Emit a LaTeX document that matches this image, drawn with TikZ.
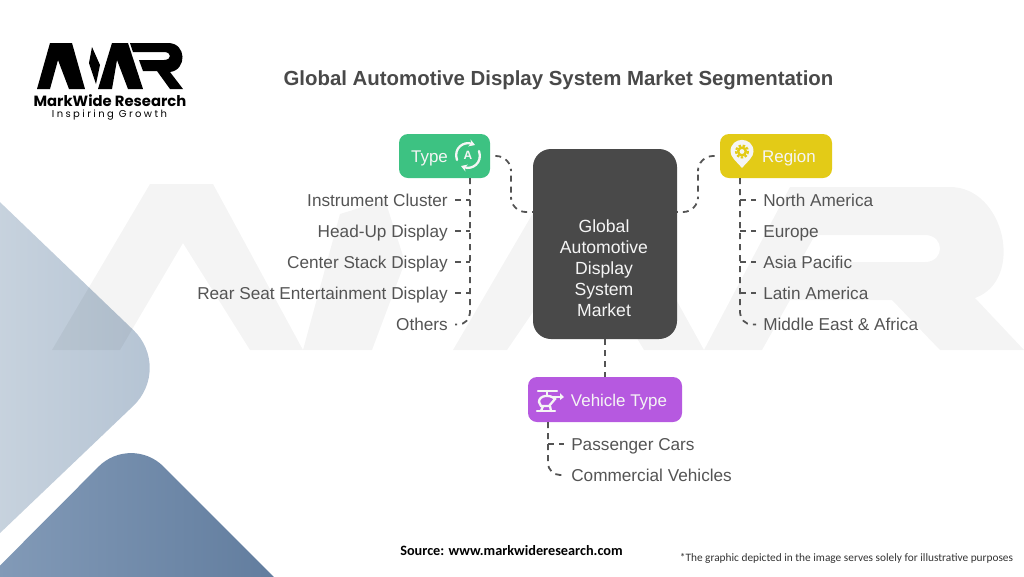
\documentclass[tikz,border=0pt]{standalone}
\usepackage{fontspec}
\setmainfont{Liberation Sans}
\newfontfamily\footfont{Carlito}
\newfontfamily\logofont{Poppins}
\usetikzlibrary{arrows.meta}
\newlength{\du}
\setlength{\du}{0.75\unitlength}
\definecolor{inkcolor}{rgb}{0.330000, 0.330000, 0.330000}
\definecolor{paletext}{rgb}{0.960000, 0.960000, 0.960000}
\definecolor{typecolor}{rgb}{0.240000, 0.760000, 0.510000}
\definecolor{regioncolor}{rgb}{0.890000, 0.795000, 0.090000}
\definecolor{vehiclecolor}{rgb}{0.715000, 0.350000, 0.880000}
\definecolor{centercolor}{rgb}{0.285000, 0.285000, 0.285000}
\definecolor{diamondA}{rgb}{0.800000, 0.840000, 0.880000}
\definecolor{diamondB}{rgb}{0.700000, 0.760000, 0.825000}
\definecolor{wedgeA}{rgb}{0.550000, 0.640000, 0.750000}
\definecolor{wedgeB}{rgb}{0.345000, 0.455000, 0.590000}
\tikzset{
  headbox/.style={rounded corners=9\du, inner sep=0pt},
  headname/.style={text=paletext, font=\fontsize{12.7}{16}\selectfont, inner sep=0pt, text height=9.5pt, text depth=0.3pt},
  leftitem/.style={anchor=east, inner xsep=7\du, inner ysep=0pt, text=inkcolor, font=\fontsize{12.9}{16}\selectfont, text height=9.5pt, text depth=0.3pt},
  rightitem/.style={anchor=west, inner xsep=7\du, inner ysep=0pt, text=inkcolor, font=\fontsize{12.9}{16}\selectfont, text height=9.5pt, text depth=0.3pt},
  dashline/.style={draw=inkcolor, line width=1.8\du, dash pattern=on 6\du off 5\du},
  wmark/.style={fill=black, fill opacity=0.042, even odd rule},
  iconline/.style={draw=paletext, line width=2.3\du, line cap=round},
}
\begin{document}
\begin{tikzpicture}
\pgftransformxscale{1.000000}
\pgftransformyscale{-1.000000}
\useasboundingbox (0.000000\du,0.000000\du) rectangle (1024.000000\du,576.000000\du);
\begin{scope}
\clip (0.000000\du,0.000000\du) rectangle (1024.000000\du,576.000000\du);
% corner shapes
\shade[rounded corners=55\du, left color=diamondA, right color=diamondB] (-45.000000\du,159.000000\du)--(173.000000\du,368.000000\du)--(-45.000000\du,576.000000\du)--cycle;
\shade[rounded corners=46\du, left color=wedgeA, right color=wedgeB] (-90.000000\du,656.000000\du)--(131.000000\du,434.000000\du)--(360.000000\du,663.000000\du)--cycle;
% big pale letters
\fill[wmark] (52.000000\du,350.000000\du)--(150.000000\du,184.000000\du)--(213.000000\du,184.000000\du)--(303.000000\du,350.000000\du)--(250.000000\du,350.000000\du)--(183.000000\du,243.000000\du)--(120.000000\du,350.000000\du)--cycle;
\fill[wmark] (303.000000\du,350.000000\du)--(340.000000\du,214.000000\du)--(385.000000\du,200.000000\du)--(405.000000\du,262.000000\du)--(372.000000\du,350.000000\du)--cycle;
\fill[wmark] (453.000000\du,350.000000\du)--(550.000000\du,184.000000\du)--(612.000000\du,184.000000\du)--(704.000000\du,350.000000\du)--(644.000000\du,350.000000\du)--(580.000000\du,243.000000\du)--(507.000000\du,350.000000\du)--cycle;
\fill[wmark] (704.000000\du,350.000000\du)--(790.000000\du,187.000000\du)--(950.000000\du,187.000000\du).. controls (1005.000000\du,187.000000\du) and (1025.000000\du,280.000000\du) .. (975.000000\du,298.000000\du)--(1024.000000\du,350.000000\du)--(940.000000\du,350.000000\du)--(892.000000\du,300.000000\du)--(790.000000\du,300.000000\du)--(762.000000\du,350.000000\du)--cycle
(815.000000\du,235.000000\du)--(925.000000\du,235.000000\du).. controls (945.000000\du,235.000000\du) and (945.000000\du,262.000000\du) .. (925.000000\du,262.000000\du)--(800.000000\du,262.000000\du)--cycle;
\end{scope}
% logo
\fill[black] (37.000000\du,89.000000\du)--(50.000000\du,43.000000\du)--(72.000000\du,43.000000\du)--(85.000000\du,89.000000\du)--(69.000000\du,89.000000\du)--(58.000000\du,60.000000\du)--(50.000000\du,89.000000\du)--cycle;
\fill[black] (92.000000\du,47.000000\du)--(100.000000\du,65.000000\du)--(96.000000\du,84.000000\du)--(89.000000\du,63.000000\du)--cycle;
\fill[black] (98.000000\du,89.000000\du)--(112.000000\du,43.000000\du)--(128.000000\du,43.000000\du)--(143.000000\du,89.000000\du)--(128.000000\du,89.000000\du)--(117.000000\du,60.000000\du)--(112.000000\du,89.000000\du)--cycle;
\fill[black, even odd rule] (130.000000\du,43.000000\du)--(168.000000\du,43.000000\du).. controls (187.000000\du,43.000000\du) and (187.000000\du,70.000000\du) .. (170.000000\du,72.000000\du)--(183.000000\du,89.000000\du)--(170.000000\du,89.000000\du)--(157.000000\du,71.000000\du)--(143.000000\du,71.000000\du)--(139.000000\du,60.000000\du)--(164.000000\du,60.000000\du).. controls (172.000000\du,60.000000\du) and (172.000000\du,52.000000\du) .. (164.000000\du,52.000000\du)--(133.000000\du,52.000000\du)--cycle;
\node[inner sep=0pt, text height=8pt, text depth=0pt] (logoname) at (110.000000\du,101.500000\du){\logofont\fontsize{11.1}{13}\selectfont\bfseries MarkWide Research};
\node[inner sep=0pt, text height=5.5pt, text depth=1pt] (logotag) at (109.500000\du,114.500000\du){\logofont\fontsize{7.5}{9}\selectfont\addfontfeature{LetterSpace=24}Inspiring Growth};
% title
\node[inner sep=0pt, text=centercolor, text height=11.5pt, text depth=0.5pt] (title) at (558.500000\du,78.000000\du){\fontsize{15.3}{20}\selectfont\bfseries Global Automotive Display System Market Segmentation};
% boxes
\node[fill=centercolor, rounded corners=18\du, minimum width=144\du, minimum height=190\du, inner sep=0pt] (market) at (605.000000\du,244.000000\du){};
\node[text=paletext, align=center, font=\fontsize{13.2}{15.75}\selectfont, inner sep=0pt] (marketname) at (604.000000\du,268.000000\du){Global\\Automotive\\Display\\System\\Market};
\node[headbox, fill=typecolor, minimum width=91\du, minimum height=44\du] (type) at (444.500000\du,156.000000\du){};
\node[headname] (typename) at (429.500000\du,156.000000\du){Type};
\node[headbox, fill=regioncolor, minimum width=112\du, minimum height=44\du] (region) at (776.000000\du,156.000000\du){};
\node[headname] (regionname) at (789.000000\du,156.000000\du){Region};
\node[headbox, fill=vehiclecolor, minimum width=154\du, minimum height=45\du] (vehicle) at (605.000000\du,399.500000\du){};
\node[headname] (vehiclename) at (619.000000\du,400.000000\du){Vehicle Type};
% type icon
\draw[iconline, -{Stealth[length=4.5pt,width=5.5pt]}] (457.000000\du,160.000000\du).. controls (453.000000\du,148.000000\du) and (464.000000\du,141.000000\du) .. (475.000000\du,145.000000\du);
\draw[iconline, -{Stealth[length=4.5pt,width=5.5pt]}] (479.000000\du,151.000000\du).. controls (483.000000\du,163.000000\du) and (472.000000\du,170.000000\du) .. (461.000000\du,166.000000\du);
\node[inner sep=0pt, text=paletext, font=\fontsize{9}{10}\selectfont\bfseries] (typeglyph) at (468.000000\du,155.500000\du){A};
% region icon
\fill[paletext] (742.000000\du,168.000000\du).. controls (736.000000\du,161.000000\du) and (730.500000\du,157.000000\du) .. (730.500000\du,151.500000\du).. controls (730.500000\du,136.000000\du) and (753.500000\du,136.000000\du) .. (753.500000\du,151.500000\du).. controls (753.500000\du,157.000000\du) and (748.000000\du,161.000000\du) .. (742.000000\du,168.000000\du)--cycle;
\draw[regioncolor, line width=2\du, dash pattern=on 2.5\du off 1.6\du] (742.000000\du,151.500000\du) circle (6.000000\du);
\fill[regioncolor] (742.000000\du,151.500000\du) circle (5.200000\du);
\fill[paletext] (742.000000\du,151.500000\du) circle (2.400000\du);
% vehicle icon
\draw[iconline] (538.000000\du,391.000000\du)--(557.000000\du,391.000000\du);
\draw[iconline] (547.000000\du,391.000000\du)--(547.000000\du,395.000000\du);
\draw[iconline] (539.000000\du,402.000000\du).. controls (539.000000\du,395.000000\du) and (550.000000\du,394.000000\du) .. (555.000000\du,399.000000\du)--(549.000000\du,406.000000\du)--(541.000000\du,406.000000\du)--cycle;
\draw[iconline] (553.000000\du,397.000000\du)--(561.000000\du,397.000000\du);
\fill[paletext] (560.000000\du,393.000000\du)--(564.000000\du,397.000000\du)--(560.000000\du,400.000000\du)--cycle;
\draw[iconline] (537.000000\du,411.000000\du)--(555.000000\du,411.000000\du);
\draw[iconline] (543.000000\du,406.000000\du)--(541.000000\du,411.000000\du);
\draw[iconline] (550.000000\du,406.000000\du)--(551.000000\du,411.000000\du);
% left list
\node[leftitem] (cluster) at (455.000000\du,200.000000\du){Instrument Cluster};
\node[leftitem] (headup) at (455.000000\du,231.000000\du){Head-Up Display};
\node[leftitem] (stack) at (455.000000\du,262.000000\du){Center Stack Display};
\node[leftitem] (rearseat) at (455.000000\du,293.000000\du){Rear Seat Entertainment Display};
\node[leftitem] (others) at (455.000000\du,324.500000\du){Others};
% right list
\node[rightitem] (namerica) at (756.000000\du,200.000000\du){North America};
\node[rightitem] (europe) at (756.000000\du,231.000000\du){Europe};
\node[rightitem] (asia) at (756.000000\du,262.000000\du){Asia Pacific};
\node[rightitem] (latin) at (756.000000\du,293.000000\du){Latin America};
\node[rightitem] (mideast) at (756.000000\du,324.500000\du){Middle East \& Africa};
% bottom list
\node[rightitem] (passenger) at (564.000000\du,444.000000\du){Passenger Cars};
\node[rightitem] (commercial) at (564.000000\du,475.000000\du){Commercial Vehicles};
% connectors
\coordinate (typedrop) at (470.000000\du,178.000000\du);
\coordinate (regiondrop) at (740.000000\du,178.000000\du);
\coordinate (vehicledrop) at (548.000000\du,422.000000\du);
\coordinate (typebend) at (511.000000\du,184.000000\du);
\coordinate (regionbend) at (698.000000\du,184.000000\du);
\coordinate (marketin) at (533.000000\du,212.000000\du);
\coordinate (marketout) at (677.000000\du,212.000000\du);
\draw[dashline, rounded corners=15\du, shorten <=5\du] (type.east) -| (typebend) |- (marketin);
\draw[dashline, rounded corners=15\du, shorten <=5\du] (region.west) -| (regionbend) |- (marketout);
\draw[dashline] (market.south) -- (vehicle.north);
\draw[dashline, rounded corners=12\du] (typedrop) |- (others.east);
\draw[dashline] (cluster.east) -- (cluster.east -| typedrop);
\draw[dashline] (headup.east) -- (headup.east -| typedrop);
\draw[dashline] (stack.east) -- (stack.east -| typedrop);
\draw[dashline] (rearseat.east) -- (rearseat.east -| typedrop);
\draw[dashline, rounded corners=12\du] (regiondrop) |- (mideast.west);
\draw[dashline] (regiondrop |- namerica.west) -- (namerica.west);
\draw[dashline] (regiondrop |- europe.west) -- (europe.west);
\draw[dashline] (regiondrop |- asia.west) -- (asia.west);
\draw[dashline] (regiondrop |- latin.west) -- (latin.west);
\draw[dashline, rounded corners=12\du] (vehicledrop) |- (commercial.west);
\draw[dashline] (vehicledrop |- passenger.west) -- (passenger.west);
% footer
\node[inner sep=0pt, text=black] (source) at (511.500000\du,551.000000\du){\footfont\fontsize{10.7}{12}\selectfont\bfseries Source: www.markwideresearch.com};
\node[inner sep=0pt, text=black!80] (disclaimer) at (846.500000\du,558.000000\du){\footfont\fontsize{8.5}{10}\selectfont *The graphic depicted in the image serves solely for illustrative purposes};
\end{tikzpicture}
\end{document}
